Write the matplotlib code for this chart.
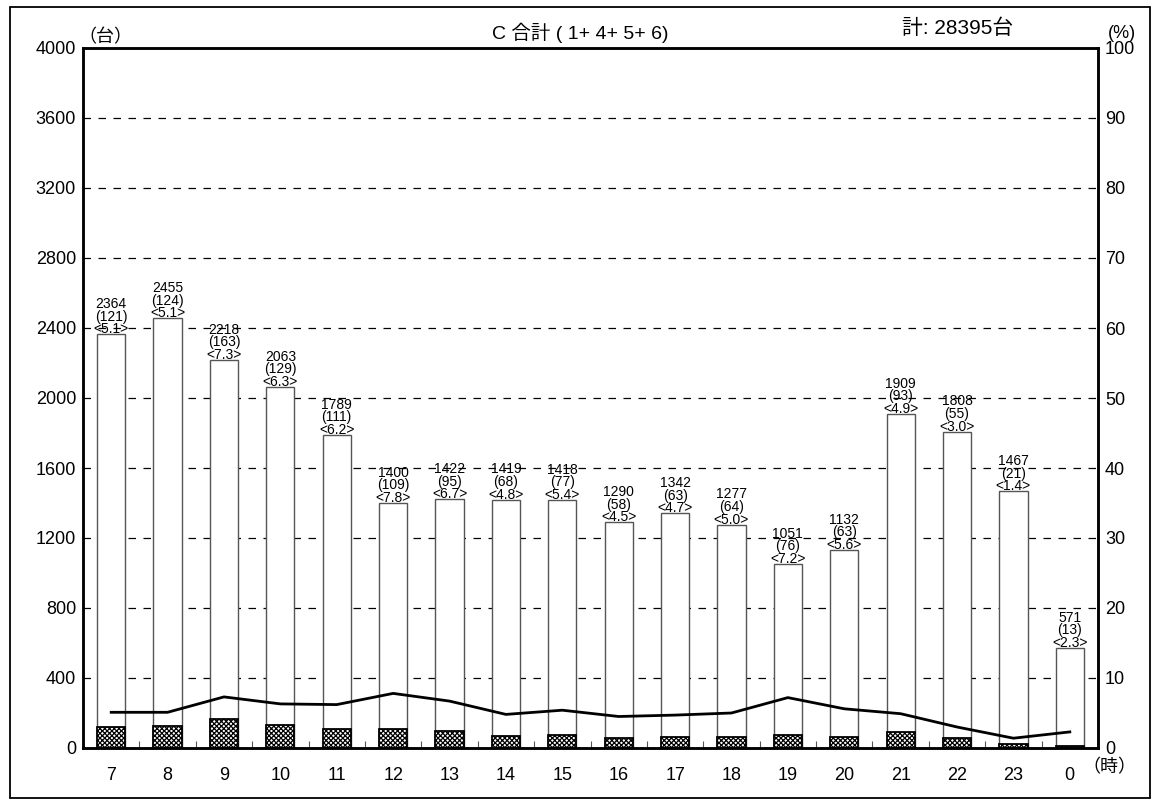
import matplotlib
matplotlib.use("Agg")
import matplotlib.pyplot as plt
from matplotlib.patches import Rectangle
import numpy as np

plt.rcParams['font.family'] = ['Liberation Sans', 'Noto Sans CJK JP', 'DejaVu Sans']
plt.rcParams['hatch.linewidth'] = 0.9

hours = ["7", "8", "9", "10", "11", "12", "13", "14", "15", "16", "17", "18",
         "19", "20", "21", "22", "23", "0"]
totals = [2364, 2455, 2218, 2063, 1789, 1400, 1422, 1419, 1418, 1290, 1342, 1277,
          1051, 1132, 1909, 1808, 1467, 571]
large = [121, 124, 163, 129, 111, 109, 95, 68, 77, 58, 63, 64, 76, 63, 93, 55, 21, 13]
pct = [5.1, 5.1, 7.3, 6.3, 6.2, 7.8, 6.7, 4.8, 5.4, 4.5, 4.7, 5.0, 7.2, 5.6, 4.9,
       3.0, 1.4, 2.3]
title = "C 合計 ( 1+ 4+ 5+ 6)"
total_label = "計: 28395台"

fig = plt.figure(figsize=(11.52, 8), dpi=100)
fig.patches.append(Rectangle((0.009, 0.003), 0.989, 0.988, transform=fig.transFigure,
                             fill=False, edgecolor='black', linewidth=1.3))
ax = fig.add_axes([83/1152, 1 - 748/800, (1098-83)/1152, 700/800])
x = np.arange(len(hours))
ax.bar(x, totals, width=0.5, facecolor='white', edgecolor='#555555', linewidth=1.0, zorder=2)
ax.bar(x, large, width=0.5, facecolor='white', edgecolor='black', hatch='xxxxxxx',
       linewidth=1.3, zorder=3)
ax.set_xlim(-0.5, len(hours) - 0.5)
ax.set_ylim(0, 4000)
ax.set_yticks(np.arange(0, 4001, 400))
ax.tick_params(axis='y', length=0, labelsize=13, pad=5)
ax.set_xticks(x)
ax.set_xticklabels(hours)
ax.tick_params(axis='x', length=0, labelsize=13, pad=14)
ax.set_xticks(np.arange(0.5, len(hours) - 0.5, 1), minor=True)
ax.tick_params(axis='x', which='minor', direction='in', length=5, width=0.8, color='#555555')
for yv in np.arange(400, 4000, 400):
    ax.axhline(yv, color='black', linestyle=(0, (6, 6)), linewidth=0.9, zorder=1)
for s in ax.spines.values():
    s.set_linewidth(1.8)

for xi, t, l, p in zip(x, totals, large, pct):
    ax.annotate(f"{t}\n({l})\n<{p:.1f}>", (xi, t), xytext=(0, -1.5), textcoords='offset points',
                ha='center', va='bottom', fontsize=10, linespacing=0.88, zorder=4)

ax2 = ax.twinx()
ax2.set_ylim(0, 100)
ax2.set_yticks(np.arange(0, 101, 10))
ax2.tick_params(axis='y', length=0, labelsize=13, pad=5)
ax2.plot(x, pct, color='black', linewidth=2.0, zorder=5)
for s in ax2.spines.values():
    s.set_linewidth(1.8)

fig.text(78/1152, 1 - 38/800, "（台）", fontsize=13, ha='left', va='center')
fig.text(1108/1152, 1 - 33/800, "(%)", fontsize=13, ha='left', va='center')
fig.text(1082/1152, 1 - 768/800, "（時）", fontsize=13, ha='left', va='center')
fig.text(580/1152, 1 - 33/800, title, fontsize=14, ha='center', va='center')
fig.text(958/1152, 1 - 28/800, total_label, fontsize=15, ha='center', va='center')

fig.savefig("out.png", dpi=100)
